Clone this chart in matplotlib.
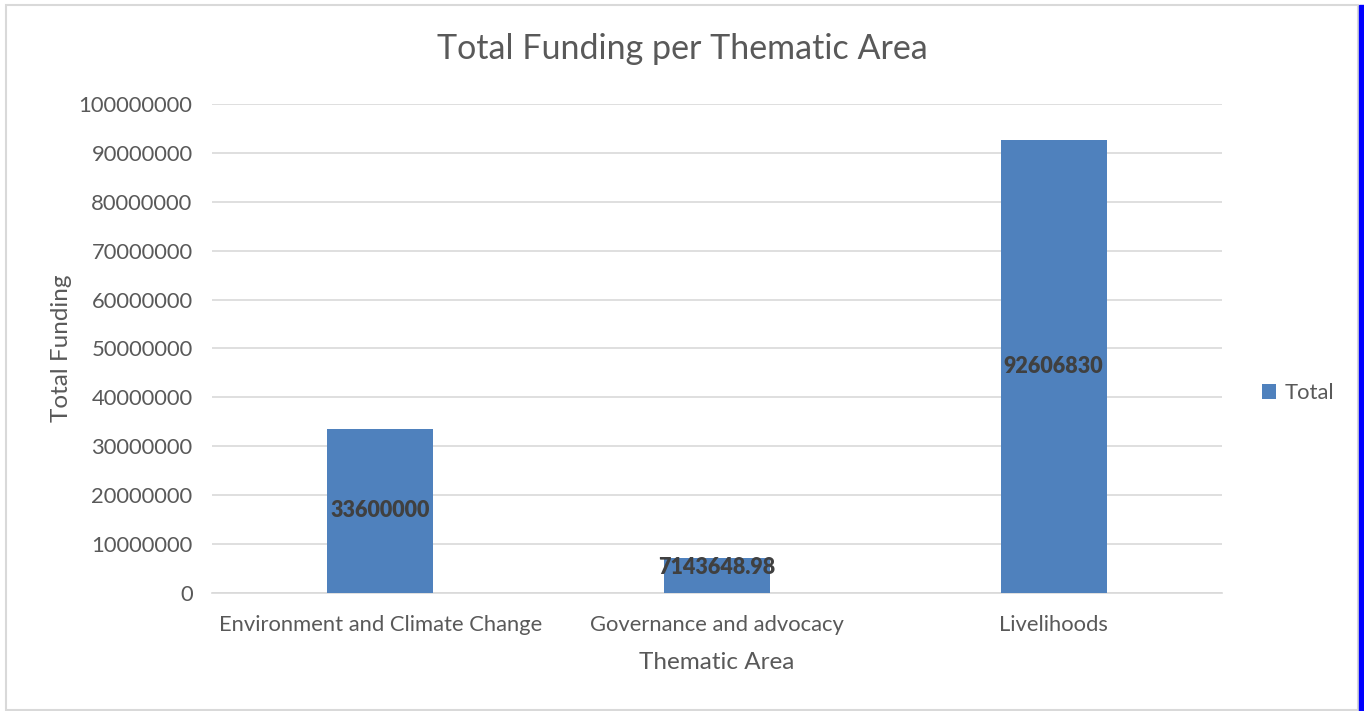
import matplotlib
matplotlib.use("Agg")
import matplotlib.pyplot as plt
from matplotlib.patches import Rectangle

categories = ["Environment and Climate Change", "Governance and advocacy", "Livelihoods"]
totals = [33600000, 7143648.98, 92606830]
labels = ["33600000", "7143648.98", "92606830"]
yticks = list(range(0, 100000001, 10000000))

plt.rcParams['font.family'] = ['Lato', 'DejaVu Sans']
txt = "#595959"

fig = plt.figure(figsize=(13.64, 7.11), dpi=100)
ax = fig.add_axes([0.1554, 0.166, 0.7405, 0.6878])

x = list(range(len(categories)))
bars = ax.bar(x, totals, width=0.315, color="#4F81BD", label="Total", zorder=3)
for xi, v, lab in zip(x, totals, labels):
    # labels sit mid-bar, but not lower than where Excel keeps a short bar's label
    ax.text(xi, max(v / 2, 5300000), lab, ha="center", va="center", fontsize=15.5,
            fontweight="heavy", color="#404040", zorder=4)

ax.set_xlim(-0.5, 2.5)
ax.set_ylim(0, 100000000)
ax.set_yticks(yticks)
ax.set_yticklabels([str(t) for t in yticks])
ax.set_xticks(x)
ax.set_xticklabels(categories)
ax.grid(axis="y", color="#D9D9D9", linewidth=1.2, zorder=0)
for s in ["top", "right", "left"]:
    ax.spines[s].set_visible(False)
ax.spines["bottom"].set_color("#D9D9D9")
ax.spines["bottom"].set_linewidth(1.2)
ax.tick_params(axis="both", length=0, labelsize=15.8, colors=txt)
ax.tick_params(axis="y", pad=14)
ax.tick_params(axis="x", pad=16)

# title is centred on the whole chart, not on the plot area
fig.text(0.5, 1 - 49 / 711, "Total Funding per Thematic Area", fontsize=24.5,
         color=txt, ha="center", va="center")
ax.set_xlabel("Thematic Area", fontsize=17.5, color=txt, labelpad=12)
ax.set_ylabel("Total Funding", fontsize=17.5, color=txt, labelpad=5)

ax.legend(loc="center left", bbox_to_anchor=(1.02, 0.408), frameon=False,
          fontsize=15.8, labelcolor=txt, handlelength=0.65, handleheight=0.65,
          handletextpad=0.4)

# outer chart frame and blue edge strip
fig.patches.append(Rectangle((6 / 1364, 1 - 710 / 711), 1352 / 1364, 705 / 711,
                             transform=fig.transFigure, fill=False,
                             edgecolor="#D9D9D9", linewidth=1.5))
fig.patches.append(Rectangle((1359 / 1364, 0), 5 / 1364, 1 - 5 / 711,
                             transform=fig.transFigure, color="#0000FF"))

fig.savefig("out.png", dpi=100)
